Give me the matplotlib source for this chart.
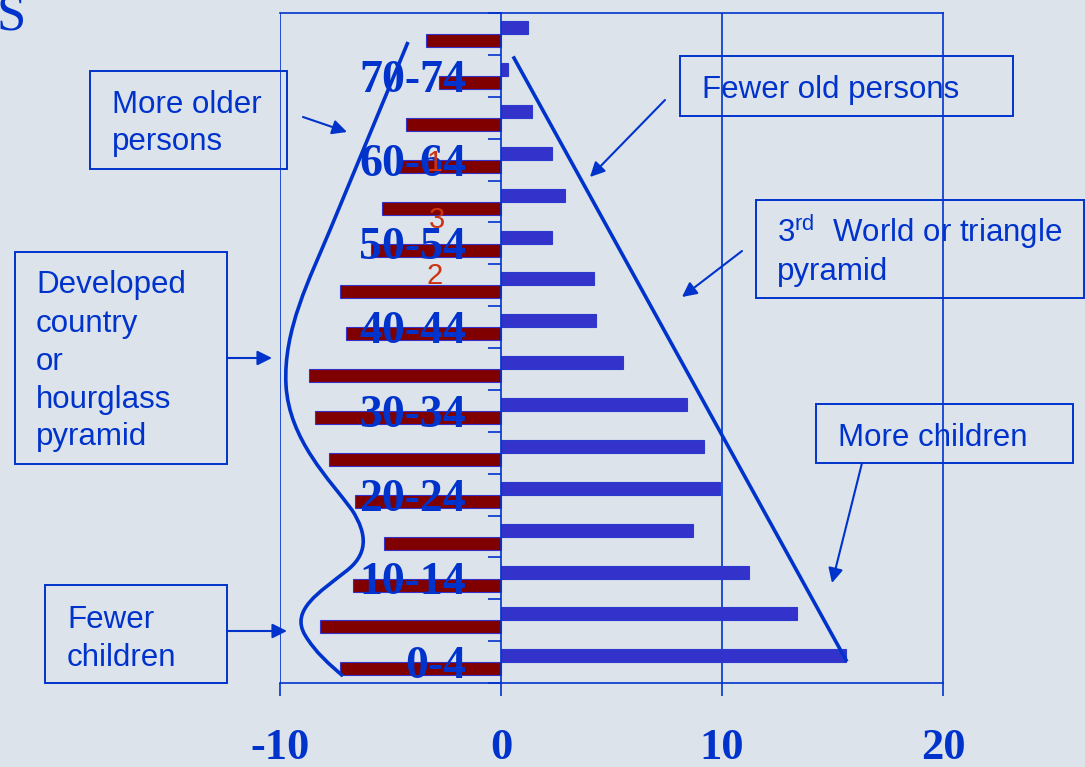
import numpy as np
import matplotlib.pyplot as plt
from matplotlib.patches import Rectangle, PathPatch, FancyArrowPatch
from matplotlib.path import Path
from matplotlib.lines import Line2D

plt.rcParams['mathtext.fontset'] = 'custom'
plt.rcParams['mathtext.rm'] = 'Liberation Sans'

# Données (% de la population par tranche d'âge)
ages = ['0-4', '5-9', '10-14', '15-19', '20-24', '25-29', '30-34', '35-39',
        '40-44', '45-49', '50-54', '55-59', '60-64', '65-69', '70-74', '75+']
developed = [-7.3, -8.2, -6.7, -5.3, -6.6, -7.8, -8.4, -8.7,
             -7.0, -7.3, -5.9, -5.4, -4.6, -4.3, -2.8, -3.4]
third_world = [15.6, 13.4, 11.2, 8.7, 9.9, 9.2, 8.4, 5.5,
               4.3, 4.2, 2.3, 2.9, 2.3, 1.4, 0.3, 1.2]
age_labels = [a if i % 2 == 0 else '' for i, a in enumerate(ages)]
xticks = [-10, 0, 10, 20]

BLUE = '#0033CC'
W, H = 1085, 767

def fx(px):
    return px / W

def fy(py):
    return 1 - py / H

fig = plt.figure(figsize=(10.85, 7.67), dpi=100, facecolor='#DDE3EA')

ax = fig.add_axes([fx(280), fy(683), (943 - 280) / W, (683 - 13) / H])
ax.set_facecolor('none')
ax.set_axisbelow(False)

ypos = np.arange(len(ages))
ax.barh(ypos + 0.15, third_world, height=0.31, color='#3333CC',
        edgecolor='#2a3acc', linewidth=0.8, zorder=2)
ax.barh(ypos - 0.16, developed, height=0.31, color='#800000',
        edgecolor='#3333CC', linewidth=0.8, zorder=2)

ax.set_xlim(-10, 20)
ax.set_ylim(-0.5, 15.5)
for v in (-10, 10):
    ax.axvline(v, color=BLUE, lw=1.2, zorder=1)
ax.spines['left'].set_position(('data', 0))
for s in ax.spines.values():
    s.set_color(BLUE)
    s.set_linewidth(1.2)

ax.set_xticks(xticks)
ax.set_xticklabels([str(t) for t in xticks], fontfamily='Liberation Serif',
                   fontweight='bold', fontsize=32, color=BLUE)
ax.tick_params(axis='x', direction='out', length=9.5, width=1.2, color=BLUE, pad=23)

ax.set_yticks(np.arange(-0.5, 16, 1))
ax.set_yticklabels([])
ax.set_yticks(ypos, minor=True)
ax.set_yticklabels(age_labels, minor=True, fontfamily='Liberation Serif',
                   fontweight='bold', fontsize=33, color=BLUE)
ax.tick_params(axis='y', which='major', direction='out', length=9.5, width=1.2, color=BLUE)
ax.tick_params(axis='y', which='minor', length=0, pad=25)

# Triangle (pays en développement)
fig.add_artist(Line2D([fx(514), fx(846)], [fy(58), fy(660)], color=BLUE, lw=2.6))

# Sablier (pays développé)
verts = [(408, 42), (330, 230),
         (310, 278), (283, 330), (286, 385),
         (289, 440), (330, 480), (352, 510),
         (368, 535), (368, 555), (345, 572),
         (320, 592), (290, 610), (305, 635),
         (315, 652), (330, 665), (343, 676)]
codes = [Path.MOVETO, Path.LINETO] + [Path.CURVE4] * 15
path = Path([(fx(x), fy(y)) for x, y in verts], codes)
fig.add_artist(PathPatch(path, transform=fig.transFigure, fill=False, ec=BLUE, lw=2.6))

# Encadrés
boxes = [(90, 71, 287, 169), (15, 252, 227, 464), (680, 56, 1013, 116),
         (756, 200, 1084, 298), (816, 404, 1073, 463), (45, 585, 227, 683)]
for x0, y0, x1, y1 in boxes:
    fig.add_artist(Rectangle((fx(x0), fy(y1)), (x1 - x0) / W, (y1 - y0) / H,
                             transform=fig.transFigure, fill=False, ec=BLUE, lw=1.4))

lines = [(112, 113, 'More older'), (112, 150, 'persons'),
         (36, 293, 'Developed'), (36, 332, 'country'), (36, 370, 'or'),
         (36, 408, 'hourglass'), (36, 445, 'pyramid'),
         (702, 98, 'Fewer old persons'),
         (777, 242, r'3$^{\mathrm{rd}}$  World or triangle'), (777, 280, 'pyramid'),
         (838, 446, 'More children'),
         (67, 628, 'Fewer'), (67, 666, 'children')]
for x, y, t in lines:
    fig.text(fx(x), fy(y), t, ha='left', va='baseline', fontsize=22.5,
             family='Liberation Sans', color=BLUE)

arrows = [((303, 117), (347, 132)), ((665, 100), (590, 177)),
          ((742, 251), (682, 297)), ((862, 463), (832, 583)),
          ((227, 358), (272, 358)), ((227, 631), (287, 631))]
for (x0, y0), (x1, y1) in arrows:
    fig.add_artist(FancyArrowPatch((fx(x0), fy(y0)), (fx(x1), fy(y1)),
                                   transform=fig.transFigure, arrowstyle='-|>',
                                   mutation_scale=22, color=BLUE, lw=1.5,
                                   shrinkA=0, shrinkB=0))

# Numéros rouges
for x, y, t in [(435, 163, '1'), (437, 220, '3'), (435, 276, '2')]:
    fig.text(fx(x), fy(y), t, ha='center', va='center', fontsize=21,
             family='Liberation Sans', color='#CC3311')

fig.text(fx(-4), fy(29), 'S', ha='left', va='baseline', fontsize=38,
         family='Liberation Serif', color=BLUE)

fig.savefig('out.png', dpi=100, facecolor=fig.get_facecolor())
